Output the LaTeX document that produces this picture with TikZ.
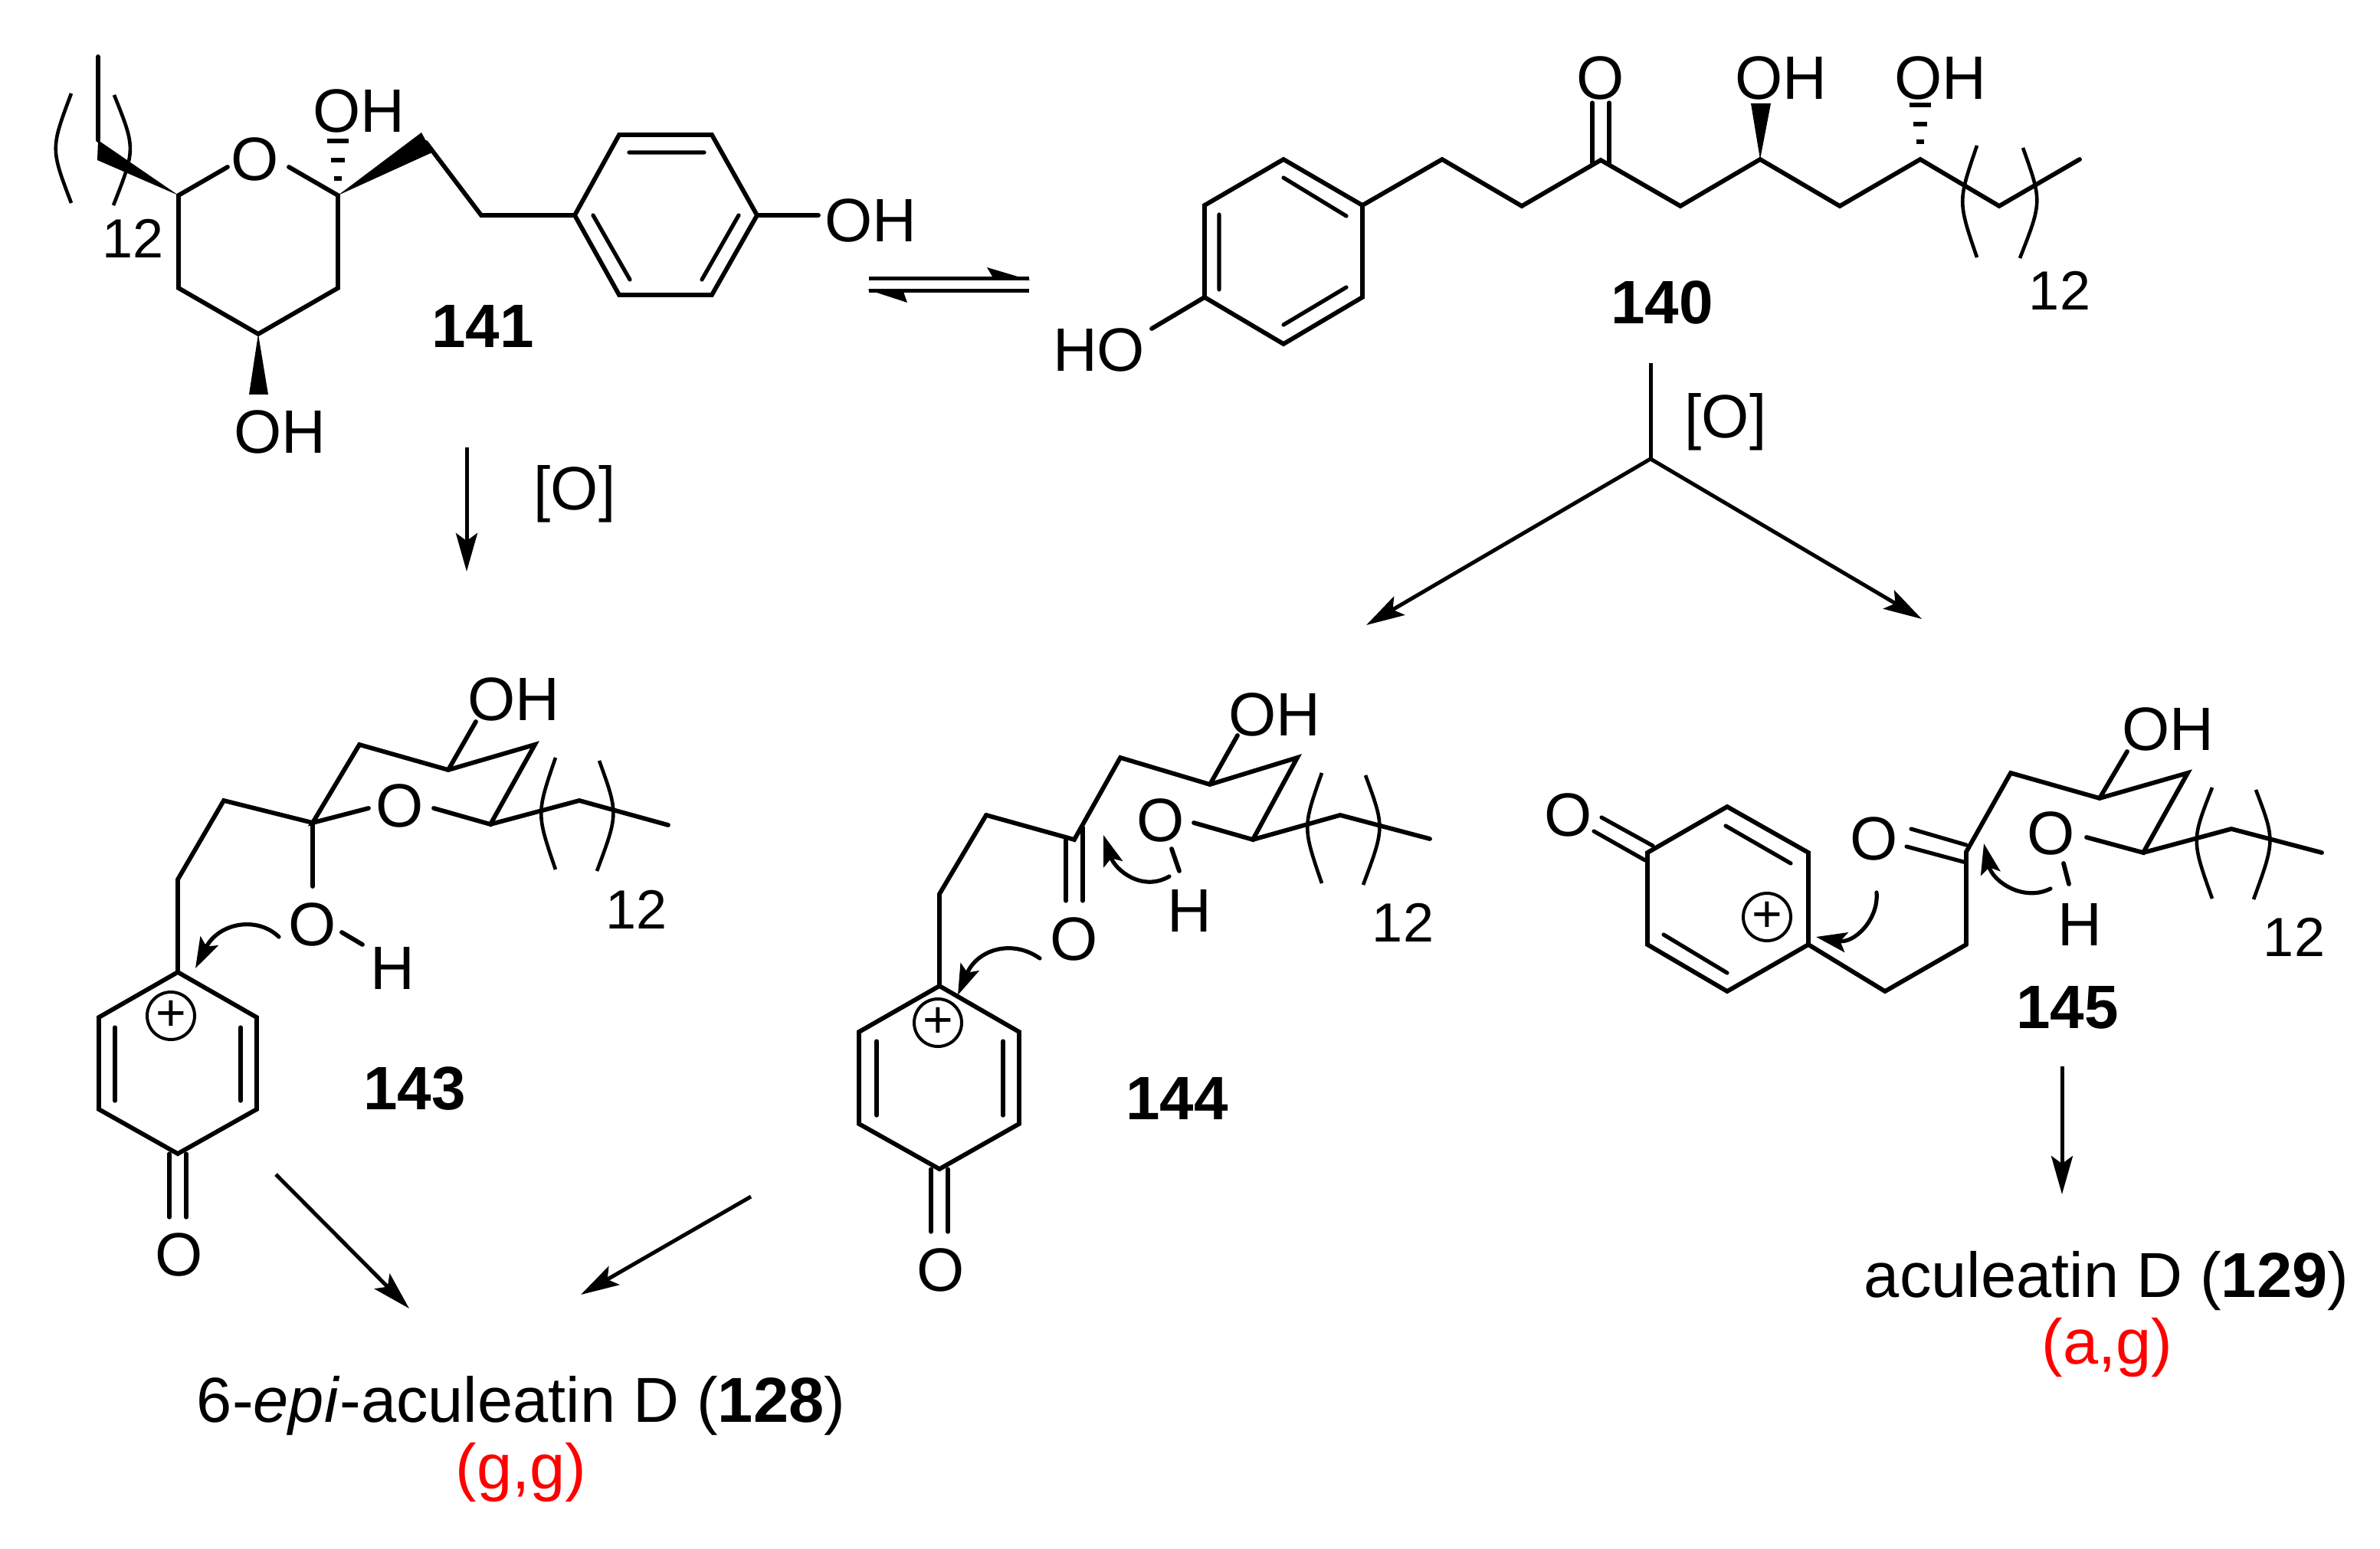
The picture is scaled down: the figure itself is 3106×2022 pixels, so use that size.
\documentclass[tikz,border=0pt]{standalone}
\usepackage{fontspec}
\setmainfont{Liberation Sans}
\usetikzlibrary{arrows.meta}
\newcommand{\atomfont}{\fontsize{40}{40}\selectfont}
\newcommand{\numfont}{\fontsize{36}{36}\selectfont}
\newcommand{\capfont}{\fontsize{41.5}{41.5}\selectfont}
\tikzset{
  bond/.style={line width=2.9pt,line cap=round,line join=miter},
  dbl/.style={line width=2.6pt,line cap=round},
  paren/.style={line width=2.3pt,line cap=butt},
  wedge/.style={fill=black,draw=none},
  hashb/.style={line width=2.8pt},
  conn/.style={line width=2.5pt,line cap=butt},
  arr/.style={line width=2.5pt,-{Stealth[length=25pt,width=14pt,inset=5pt]}},
  curved/.style={line width=2.6pt,line cap=round,-{Stealth[length=20pt,width=13pt,inset=4pt]}},
  atom/.style={inner sep=0pt,font=\atomfont},
  cnt/.style={inner sep=0pt,font=\numfont},
  compound/.style={inner sep=0pt,font=\atomfont\bfseries},
  capt/.style={inner sep=0pt,font=\capfont},
  redcapt/.style={inner sep=0pt,font=\capfont,text=red},
  charge/.style={circle,draw,line width=2pt,minimum size=31pt,inner sep=0pt,font=\fontsize{34}{34}\selectfont},
}
\begin{document}
\begin{tikzpicture}[x=0.5pt,y=-0.5pt]
\useasboundingbox (0,0) rectangle (3106,2022);
\fill[white] (0,0) rectangle (3106,2022);

% ---------- 141 ----------
\node[atom] (a141o) at (333,208) {O};
\node[atom] (a141oh1) at (468,145) {OH};
\node[atom] (a141oh2) at (1136,288) {OH};
\node[atom] (a141oh3) at (365,564) {OH};
\node[cnt] (a141n) at (174,311) {12};
\node[compound] (a141) at (630,426) {141};
\coordinate (b1) at (233,255);
\coordinate (b2) at (441,255);
\coordinate (b3) at (441,376);
\coordinate (b4) at (337,436);
\coordinate (b5) at (233,376);
\coordinate (b6) at (297,218);
\coordinate (b7) at (377,218);
\coordinate (c1) at (128,183);
\coordinate (c2) at (128,74);
\coordinate (d1) at (556,186);
\coordinate (d2) at (628,281);
\coordinate (e1) at (750,281);
\coordinate (e2) at (808,176);
\coordinate (e3) at (929,176);
\coordinate (e4) at (988,281);
\coordinate (e5) at (929,385);
\coordinate (e6) at (808,385);
\coordinate (e7) at (1068,281);
\coordinate (f1) at (821,199);
\coordinate (f2) at (919,199);
\coordinate (f3) at (774,281);
\coordinate (f4) at (822,365);
\coordinate (f5) at (964,281);
\coordinate (f6) at (916,365);
\draw[bond] (b6)--(b1)--(b5)--(b4)--(b3)--(b2)--(b7);
\draw[bond] (c1)--(c2);
\draw[bond] (d1)--(d2)--(e1)--(e2)--(e3)--(e4)--(e5)--(e6)--(e1);
\draw[bond] (e4)--(e7);
\draw[dbl] (f1)--(f2) (f3)--(f4) (f5)--(f6);
\fill[wedge] (233,255)--(128,183)--(127,209)--cycle;
\fill[wedge] (441,255)--(550,173)--(564,199)--cycle;
\fill[wedge] (337,436)--(325,515)--(350,515)--cycle;
\draw[hashb] (427,184)--(455,184) (432,209)--(450,209) (436,233)--(446,233);
\draw[paren] (93,122) .. controls (66,194) .. (93,265);
\draw[paren] (149,124) .. controls (177,194) .. (148,268);

% ---------- equilibrium ----------
\coordinate (q1) at (1134,364);
\coordinate (q2) at (1343,364);
\coordinate (q3) at (1343,380);
\coordinate (q4) at (1134,380);
\draw[conn] (q1)--(q2);
\draw[conn] (q3)--(q4);
\fill (1345,366)--(1288,349)--(1298,366)--cycle;
\fill (1132,378)--(1184,395)--(1178,378)--cycle;

% ---------- 141 -> 143 ----------
\coordinate (r1) at (609,584);
\coordinate (r2) at (609,746);
\draw[arr] (r1)--(r2);
\node[atom] (ox1) at (750,645) {[O]};

% ---------- 140 ----------
\node[atom] (h140ho) at (1434,457) {HO};
\node[atom] (h140o) at (2089,102) {O};
\node[atom] (h140oh1) at (2324,102) {OH};
\node[atom] (h140oh2) at (2532,102) {OH};
\node[cnt] (h140n) at (2688,379) {12};
\node[compound] (h140) at (2169,395) {140};
\coordinate (g0) at (1503,429);
\coordinate (g1) at (1572,388);
\coordinate (g2) at (1572,268);
\coordinate (g3) at (1675,208);
\coordinate (g4) at (1778,268);
\coordinate (g5) at (1778,388);
\coordinate (g6) at (1675,449);
\coordinate (i1) at (1882,208);
\coordinate (i2) at (1986,269);
\coordinate (i3) at (2089,209);
\coordinate (i4) at (2193,269);
\coordinate (i5) at (2297,208);
\coordinate (i6) at (2401,269);
\coordinate (i7) at (2506,208);
\coordinate (i8) at (2609,269);
\coordinate (i9) at (2714,208);
\coordinate (j1) at (1591,280);
\coordinate (j2) at (1591,378);
\coordinate (j3) at (1675,232);
\coordinate (j4) at (1757,282);
\coordinate (j5) at (1757,375);
\coordinate (j6) at (1675,424);
\coordinate (k1) at (2078,213);
\coordinate (k2) at (2078,134);
\coordinate (k3) at (2100,213);
\coordinate (k4) at (2100,134);
\draw[bond] (g0)--(g1)--(g2)--(g3)--(g4)--(g5)--(g6)--(g1);
\draw[bond] (g4)--(i1)--(i2)--(i3)--(i4)--(i5)--(i6)--(i7)--(i8)--(i9);
\draw[dbl] (j1)--(j2) (j3)--(j4) (j5)--(j6);
\draw[dbl] (k1)--(k2) (k3)--(k4);
\fill[wedge] (2297,208)--(2285,135)--(2311,135)--cycle;
\draw[hashb] (2492,137)--(2520,137) (2497,162)--(2515,162) (2501,185)--(2511,185);
\draw[paren] (2580,190) .. controls (2555,263) .. (2580,336);
\draw[paren] (2640,193) .. controls (2665,263) .. (2636,337);

% ---------- branch ----------
\coordinate (s1) at (2154,474);
\coordinate (s2) at (2154,599);
\coordinate (s3) at (1783,816);
\coordinate (s4) at (2508,808);
\draw[conn] (s1)--(s2);
\draw[arr] (s2)--(s3);
\draw[arr] (s2)--(s4);
\node[atom] (ox2) at (2252,551) {[O]};

% ---------- 143 ----------
\node[atom] (t143oh) at (670,913) {OH};
\node[atom] (t143o) at (522,1052) {O};
\node[atom] (t143o2) at (408,1207) {O};
\node[atom] (t143h) at (512,1264) {H};
\node[atom] (t143o3) at (234,1638) {O};
\node[cnt] (t143n) at (831,1187) {12};
\node[compound] (t143) at (541,1421) {143};
\node[charge] (t143c) at (223,1326) {+};
\coordinate (l1) at (408,1074);
\coordinate (l2) at (469,972);
\coordinate (l3) at (585,1005);
\coordinate (l4) at (698,972);
\coordinate (l5) at (640,1076);
\coordinate (l6) at (481,1055);
\coordinate (l7) at (566,1055);
\coordinate (l8) at (756,1045);
\coordinate (l9) at (872,1077);
\coordinate (l10) at (621,942);
\coordinate (m1) at (292,1045);
\coordinate (m2) at (232,1148);
\coordinate (m3) at (232,1269);
\coordinate (m4) at (335,1328);
\coordinate (m5) at (335,1448);
\coordinate (m6) at (232,1506);
\coordinate (m7) at (129,1448);
\coordinate (m8) at (129,1328);
\coordinate (m9) at (408,1157);
\coordinate (m10) at (446,1217);
\coordinate (m11) at (473,1233);
\coordinate (n1) at (150,1341);
\coordinate (n2) at (150,1437);
\coordinate (n3) at (314,1341);
\coordinate (n4) at (314,1437);
\coordinate (n5) at (221,1506);
\coordinate (n6) at (221,1589);
\coordinate (n7) at (243,1506);
\coordinate (n8) at (243,1589);
\draw[bond] (l6)--(l1)--(l2)--(l3)--(l4)--(l5)--(l7);
\draw[bond] (l3)--(l10);
\draw[bond] (l5)--(l8)--(l9);
\draw[bond] (l1)--(m1)--(m2)--(m3)--(m4)--(m5)--(m6)--(m7)--(m8)--(m3);
\draw[bond] (l1)--(m9);
\draw[bond] (m10)--(m11);
\draw[dbl] (n1)--(n2) (n3)--(n4) (n5)--(n6) (n7)--(n8);
\draw[paren] (725,989) .. controls (700,1062) .. (725,1135);
\draw[paren] (782,993) .. controls (807,1062) .. (779,1137);
\coordinate (u1) at (364,1223);
\coordinate (u2) at (255,1264);
\draw[curved] (u1) .. controls (335,1195) and (285,1205) .. (u2);

% ---------- 144 ----------
\node[atom] (v144oh) at (1663,933) {OH};
\node[atom] (v144o) at (1515,1071) {O};
\node[atom] (v144o2) at (1402,1226) {O};
\node[atom] (v144h) at (1552,1189) {H};
\node[atom] (v144o3) at (1228,1658) {O};
\node[cnt] (v144n) at (1831,1204) {12};
\node[compound] (v144) at (1536,1434) {144};
\node[charge] (v144c) at (1224,1335) {+};
\coordinate (w1) at (1402,1096);
\coordinate (w2) at (1462,989);
\coordinate (w3) at (1579,1024);
\coordinate (w4) at (1693,989);
\coordinate (w5) at (1635,1096);
\coordinate (w6) at (1558,1074);
\coordinate (w7) at (1749,1064);
\coordinate (w8) at (1866,1095);
\coordinate (w9) at (1615,960);
\coordinate (w10) at (1529,1108);
\coordinate (w11) at (1539,1137);
\coordinate (y1) at (1287,1064);
\coordinate (y2) at (1226,1167);
\coordinate (y3) at (1226,1287);
\coordinate (y4) at (1330,1347);
\coordinate (y5) at (1330,1467);
\coordinate (y6) at (1226,1526);
\coordinate (y7) at (1121,1467);
\coordinate (y8) at (1121,1347);
\coordinate (z1) at (1144,1359);
\coordinate (z2) at (1144,1456);
\coordinate (z3) at (1309,1359);
\coordinate (z4) at (1309,1456);
\coordinate (z5) at (1215,1526);
\coordinate (z6) at (1215,1608);
\coordinate (z7) at (1237,1526);
\coordinate (z8) at (1237,1608);
\coordinate (z9) at (1391,1096);
\coordinate (z10) at (1391,1176);
\coordinate (z11) at (1413,1080);
\coordinate (z12) at (1413,1176);
\draw[bond] (y1)--(w1)--(w2)--(w3)--(w4)--(w5)--(w6);
\draw[bond] (w3)--(w9);
\draw[bond] (w5)--(w7)--(w8);
\draw[bond] (w10)--(w11);
\draw[bond] (y1)--(y2)--(y3)--(y4)--(y5)--(y6)--(y7)--(y8)--(y3);
\draw[dbl] (z1)--(z2) (z3)--(z4) (z5)--(z6) (z7)--(z8) (z9)--(z10) (z11)--(z12);
\draw[paren] (1725,1009) .. controls (1700,1080) .. (1725,1153);
\draw[paren] (1782,1012) .. controls (1807,1080) .. (1779,1155);
\coordinate (aa1) at (1526,1144);
\coordinate (aa2) at (1440,1090);
\coordinate (aa3) at (1357,1251);
\coordinate (aa4) at (1250,1299);
\draw[curved] (aa1) .. controls (1490,1165) and (1455,1135) .. (aa2);
\draw[curved] (aa3) .. controls (1320,1225) and (1275,1240) .. (aa4);

% ---------- 145 ----------
\node[atom] (ab145oh) at (2829,952) {OH};
\node[atom] (ab145o) at (2677,1088) {O};
\node[atom] (ab145o2) at (2446,1095) {O};
\node[atom] (ab145h) at (2714,1207) {H};
\node[atom] (ab145o3) at (2047,1064) {O};
\node[cnt] (ab145n) at (2994,1223) {12};
\node[compound] (ab145) at (2698,1315) {145};
\node[charge] (ab145c) at (2306,1197) {+};
\coordinate (ac1) at (2566,1112);
\coordinate (ac2) at (2624,1009);
\coordinate (ac3) at (2740,1042);
\coordinate (ac4) at (2855,1009);
\coordinate (ac5) at (2797,1113);
\coordinate (ac6) at (2723,1093);
\coordinate (ac7) at (2912,1082);
\coordinate (ac8) at (3030,1113);
\coordinate (ac9) at (2776,981);
\coordinate (ac10) at (2693,1127);
\coordinate (ac11) at (2700,1154);
\coordinate (ad1) at (2566,1233);
\coordinate (ad2) at (2460,1294);
\coordinate (ad3) at (2360,1233);
\coordinate (ad4) at (2360,1113);
\coordinate (ad5) at (2254,1053);
\coordinate (ad6) at (2150,1113);
\coordinate (ad7) at (2150,1233);
\coordinate (ad8) at (2254,1294);
\coordinate (ae1) at (2252,1078);
\coordinate (ae2) at (2337,1127);
\coordinate (ae3) at (2171,1220);
\coordinate (ae4) at (2254,1270);
\coordinate (ae5) at (2090,1067);
\coordinate (ae6) at (2157,1104);
\coordinate (ae7) at (2080,1085);
\coordinate (ae8) at (2147,1123);
\coordinate (ae9) at (2494,1082);
\coordinate (ae10) at (2566,1103);
\coordinate (ae11) at (2488,1105);
\coordinate (ae12) at (2566,1126);
\draw[bond] (ad1)--(ac1)--(ac2)--(ac3)--(ac4)--(ac5)--(ac6);
\draw[bond] (ac3)--(ac9);
\draw[bond] (ac5)--(ac7)--(ac8);
\draw[bond] (ac10)--(ac11);
\draw[bond] (ad1)--(ad2)--(ad3)--(ad4)--(ad5)--(ad6)--(ad7)--(ad8)--(ad3);
\draw[dbl] (ae1)--(ae2) (ae3)--(ae4) (ae5)--(ae6) (ae7)--(ae8) (ae9)--(ae10) (ae11)--(ae12);
\draw[paren] (2887,1028) .. controls (2860,1097) .. (2887,1173);
\draw[paren] (2944,1031) .. controls (2969,1097) .. (2941,1174);
\coordinate (af1) at (2449,1165);
\coordinate (af2) at (2370,1223);
\coordinate (af3) at (2676,1160);
\coordinate (af4) at (2589,1101);
\draw[curved] (af1) .. controls (2452,1200) and (2420,1232) .. (af2);
\draw[curved] (af3) .. controls (2640,1178) and (2600,1150) .. (af4);

% ---------- reaction arrows ----------
\coordinate (ag1) at (360,1533);
\coordinate (ag2) at (534,1708);
\coordinate (ag3) at (980,1562);
\coordinate (ag4) at (758,1690);
\coordinate (ag5) at (2691,1392);
\coordinate (ag6) at (2691,1559);
\draw[arr] (ag1)--(ag2);
\draw[arr] (ag3)--(ag4);
\draw[arr] (ag5)--(ag6);

% ---------- captions ----------
\node[capt] (cap128) at (680,1835) {6-\textit{epi}-aculeatin D (\textbf{128})};
\node[redcapt] (red128) at (680,1922) {(g,g)};
\node[capt] (cap129) at (2749,1672) {aculeatin D (\textbf{129})};
\node[redcapt] (red129) at (2750,1759) {(a,g)};
\end{tikzpicture}
\end{document}
